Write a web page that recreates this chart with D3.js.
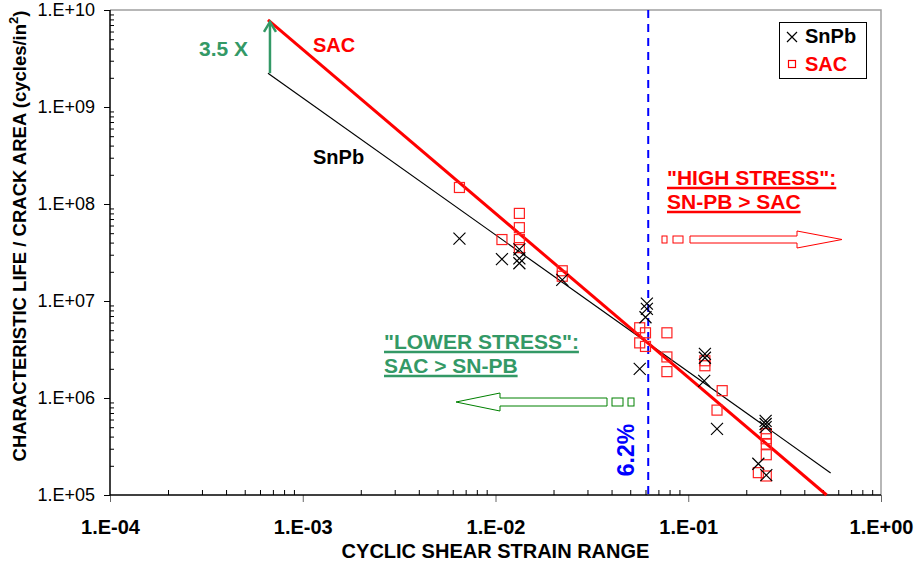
<!DOCTYPE html>
<html lang='en'>
    <head>
        <meta charset='utf-8'>
        <title>Characteristic life vs cyclic shear strain</title>
        <script src="https://d3js.org/d3.v7.min.js" charset='utf-8'></script>
        <style type='text/css'>
            body { margin: 0; background: #fff; }
            svg { display: block; font-family: Arial, 'Liberation Sans', sans-serif; }
            .ytick text { font-size: 18px; }
            .xtick text { font-size: 20px; font-weight: bold; }
            .domain { display: none; }
        </style>
    </head>
    <body>
        <script type='text/javascript'>
            // data
            var snpbX = [0.0065, 0.0108, 0.0133, 0.0133, 0.0133, 0.0222, 0.061, 0.061, 0.060, 0.056,
                         0.122, 0.122, 0.121, 0.141, 0.252, 0.252, 0.252, 0.231, 0.254];
            var snpbY = [4.4e7, 2.7e7, 3.4e7, 2.75e7, 2.45e7, 1.65e7, 9.4e6, 8.3e6, 6.8e6, 2.0e6,
                         2.85e6, 2.6e6, 1.5e6, 4.8e5, 5.8e5, 5.4e5, 5.0e5, 2.1e5, 1.6e5];
            var sacX = [0.0065, 0.0108, 0.0133, 0.0133, 0.0133, 0.0133, 0.0222, 0.0222,
                        0.056, 0.060, 0.056, 0.060, 0.0775, 0.0775, 0.0775, 0.122, 0.122,
                        0.150, 0.141, 0.254, 0.254, 0.254, 0.254, 0.231, 0.254];
            var sacY = [1.48e8, 4.3e7, 8.0e7, 5.7e7, 4.3e7, 3.55e7, 2.05e7, 1.8e7,
                        5.3e6, 4.7e6, 3.7e6, 3.4e6, 4.7e6, 2.65e6, 1.87e6, 2.42e6, 2.15e6,
                        1.19e6, 7.5e5, 4.3e5, 3.8e5, 3.35e5, 2.6e5, 1.7e5, 1.57e5];
            // fitted lines (end points)
            var fitSacX = [6.6e-4, 0.522];
            var fitSacY = [7.9e9, 1e5];
            var fitSnpbX = [6.6e-4, 0.548];
            var fitSnpbY = [2.23e9, 1.69e5];
            var threshold = 0.062;
            var xDecades = [1e-4, 1e-3, 1e-2, 1e-1, 1];
            var yDecades = [1e5, 1e6, 1e7, 1e8, 1e9, 1e10];

            var width = 918, height = 565;
            var plot = {left: 110, right: 881, top: 10, bottom: 495};
            var svg = d3.select('body').append('svg')
                .attr('width', width).attr('height', height);

            var x = d3.scaleLog().domain([1e-4, 1]).range([plot.left, plot.right]);
            var y = d3.scaleLog().domain([1e5, 1e10]).range([plot.bottom, plot.top]);

            function sci(v) {
                var e = Math.round(Math.log10(v));
                var a = Math.abs(e);
                return '1.E' + (e < 0 ? '-' : '+') + (a < 10 ? '0' + a : a);
            }
            function minors(decs) {
                var out = [];
                decs.slice(0, -1).forEach(function(d) {
                    for (var k = 2; k <= 9; k++) out.push(d * k);
                });
                return out;
            }

            // gray frame top/right
            svg.append('path')
                .attr('d', 'M' + plot.left + ',' + plot.top + 'H' + plot.right + 'V' + plot.bottom)
                .attr('fill', 'none').attr('stroke', '#a0a0a0').attr('stroke-width', 1.5);

            // axes
            svg.append('g').attr('class', 'ytick')
                .attr('transform', 'translate(' + plot.left + ',0)')
                .call(d3.axisLeft(y).tickValues(yDecades).tickSize(6).tickPadding(9).tickFormat(sci));
            svg.append('g').attr('transform', 'translate(' + plot.left + ',0)')
                .call(d3.axisLeft(y).tickValues(minors(yDecades)).tickSize(-4).tickFormat(''));
            var gx = svg.append('g').attr('class', 'xtick')
                .attr('transform', 'translate(0,' + plot.bottom + ')')
                .call(d3.axisBottom(x).tickValues(xDecades).tickSize(7).tickPadding(18).tickFormat(sci));
            svg.append('g').attr('transform', 'translate(0,' + plot.bottom + ')')
                .call(d3.axisBottom(x).tickValues(minors(xDecades)).tickSize(-5).tickFormat(''));
            svg.selectAll('.tick line').attr('stroke', '#000');
            svg.selectAll('.tick text').attr('fill', '#000');
            gx.selectAll('.tick line').attr('stroke', '#666');

            svg.append('line')
                .attr('x1', plot.left).attr('x2', plot.left)
                .attr('y1', plot.top).attr('y2', plot.bottom)
                .attr('stroke', '#000').attr('stroke-width', 1.5);
            svg.append('line')
                .attr('x1', plot.left).attr('x2', plot.right)
                .attr('y1', plot.bottom).attr('y2', plot.bottom)
                .attr('stroke', '#000').attr('stroke-width', 1.5);

            // axis titles
            svg.append('text')
                .attr('x', (plot.left + plot.right) / 2).attr('y', 558)
                .attr('text-anchor', 'middle').attr('font-size', 20).attr('font-weight', 'bold')
                .text('CYCLIC SHEAR STRAIN RANGE');
            var yt = svg.append('text')
                .attr('transform', 'translate(26,236) rotate(-90)')
                .attr('text-anchor', 'middle').attr('font-size', 18.5).attr('font-weight', 'bold');
            yt.append('tspan').text('CHARACTERISTIC LIFE / CRACK AREA (cycles/in');
            yt.append('tspan').attr('dy', -8).attr('font-size', 13).text('2');
            yt.append('tspan').attr('dy', 8).text(')');

            // threshold line
            svg.append('line')
                .attr('x1', x(threshold)).attr('x2', x(threshold))
                .attr('y1', plot.top).attr('y2', plot.bottom)
                .attr('stroke', '#0000ff').attr('stroke-width', 2).attr('stroke-dasharray', '8,6');
            svg.append('text')
                .attr('transform', 'translate(' + (x(threshold) - 14) + ',450) rotate(-90)')
                .attr('text-anchor', 'middle').attr('font-size', 23).attr('font-weight', 'bold')
                .attr('fill', '#0000ff').text('6.2%');

            // fitted lines
            var line = d3.line().x(function(d) { return x(d[0]); }).y(function(d) { return y(d[1]); });
            svg.append('path').datum(d3.zip(fitSnpbX, fitSnpbY)).attr('d', line)
                .attr('fill', 'none').attr('stroke', '#000').attr('stroke-width', 1.2);
            svg.append('path').datum(d3.zip(fitSacX, fitSacY)).attr('d', line)
                .attr('fill', 'none').attr('stroke', '#ff0000').attr('stroke-width', 3);

            // markers
            svg.append('g').selectAll('rect').data(d3.zip(sacX, sacY)).enter().append('rect')
                .attr('x', function(d) { return x(d[0]) - 5; })
                .attr('y', function(d) { return y(d[1]) - 5; })
                .attr('width', 10).attr('height', 10)
                .attr('fill', 'none').attr('stroke', '#ff2020').attr('stroke-width', 1.2);
            svg.append('g').selectAll('path').data(d3.zip(snpbX, snpbY)).enter().append('path')
                .attr('d', function(d) {
                    var cx = x(d[0]), cy = y(d[1]), s = 6;
                    return 'M' + (cx - s) + ',' + (cy - s) + 'L' + (cx + s) + ',' + (cy + s) +
                           'M' + (cx - s) + ',' + (cy + s) + 'L' + (cx + s) + ',' + (cy - s);
                })
                .attr('stroke', '#000').attr('stroke-width', 1.2);

            // line labels + 3.5X arrow
            var green = '#339966';
            svg.append('text').attr('x', 313).attr('y', 52).attr('font-size', 20)
                .attr('font-weight', 'bold').attr('fill', '#ff0000').text('SAC');
            svg.append('text').attr('x', 313).attr('y', 164).attr('font-size', 20)
                .attr('font-weight', 'bold').attr('fill', '#000').text('SnPb');
            var ax = x(fitSacX[0]) + 2;
            svg.append('line').attr('x1', ax).attr('x2', ax)
                .attr('y1', y(fitSnpbY[0])).attr('y2', y(fitSacY[0]) + 2)
                .attr('stroke', green).attr('stroke-width', 2.5);
            svg.append('path')
                .attr('d', 'M' + (ax - 6) + ',' + (y(fitSacY[0]) + 12) + 'L' + ax + ',' + (y(fitSacY[0]) + 2) +
                      'L' + (ax + 6) + ',' + (y(fitSacY[0]) + 12))
                .attr('fill', 'none').attr('stroke', green).attr('stroke-width', 2.5);
            svg.append('text').attr('x', 199).attr('y', 56).attr('font-size', 21)
                .attr('font-weight', 'bold').attr('fill', green).text('3.5 X');

            // region notes
            function note(lines, x0, y0, color) {
                lines.forEach(function(t, i) {
                    var tx = svg.append('text').attr('x', x0).attr('y', y0 + i * 24)
                        .attr('font-size', 21).attr('font-weight', 'bold').attr('fill', color).text(t);
                    var w = tx.node().getComputedTextLength();
                    svg.append('line').attr('x1', x0).attr('x2', x0 + w)
                        .attr('y1', y0 + i * 24 + 3).attr('y2', y0 + i * 24 + 3)
                        .attr('stroke', color).attr('stroke-width', 2.5);
                });
            }
            note(['"HIGH STRESS":', 'SN-PB > SAC'], 667, 185, '#ff0000');
            note(['"LOWER STRESS":', 'SAC > SN-PB'], 384, 349, green);

            // block arrows
            svg.append('rect').attr('x', 662).attr('y', 236).attr('width', 5).attr('height', 7)
                .attr('fill', 'none').attr('stroke', '#ff0000').attr('stroke-width', 1);
            svg.append('rect').attr('x', 673).attr('y', 236).attr('width', 10).attr('height', 7)
                .attr('fill', 'none').attr('stroke', '#ff0000').attr('stroke-width', 1);
            svg.append('path')
                .attr('d', 'M690,236H797V231L842,239.5L797,248V243H690Z')
                .attr('fill', 'none').attr('stroke', '#ff0000').attr('stroke-width', 1);

            svg.append('rect').attr('x', 628).attr('y', 398).attr('width', 6).attr('height', 8)
                .attr('fill', 'none').attr('stroke', '#008000').attr('stroke-width', 1);
            svg.append('rect').attr('x', 612).attr('y', 398).attr('width', 11).attr('height', 8)
                .attr('fill', 'none').attr('stroke', '#008000').attr('stroke-width', 1);
            svg.append('path')
                .attr('d', 'M607,398H500V393L456,402L500,411V406H607Z')
                .attr('fill', 'none').attr('stroke', '#008000').attr('stroke-width', 1);

            // legend
            var lg = svg.append('g');
            lg.append('rect').attr('x', 779.5).attr('y', 22.5).attr('width', 87).attr('height', 56)
                .attr('fill', '#fff').attr('stroke', '#000').attr('stroke-width', 1);
            lg.append('path').attr('d', 'M787,32L797,42M787,42L797,32')
                .attr('stroke', '#000').attr('stroke-width', 1.2);
            lg.append('text').attr('x', 805).attr('y', 43).attr('font-size', 20)
                .attr('font-weight', 'bold').text('SnPb');
            lg.append('rect').attr('x', 788.5).attr('y', 60.5).attr('width', 7).attr('height', 7)
                .attr('fill', 'none').attr('stroke', '#ff0000').attr('stroke-width', 1.2);
            lg.append('text').attr('x', 805).attr('y', 71).attr('font-size', 20)
                .attr('font-weight', 'bold').attr('fill', '#ff0000').text('SAC');
        </script>
    </body>
</html>
